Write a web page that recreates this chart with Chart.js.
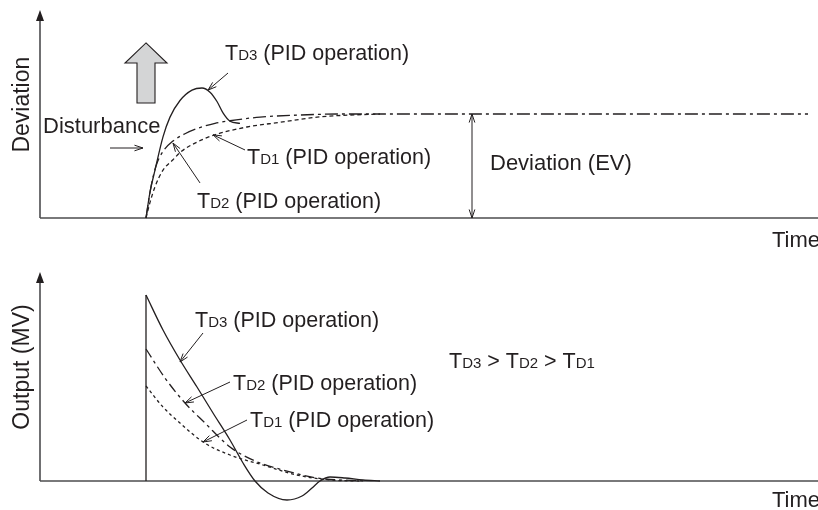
<!DOCTYPE html>
<html>
<head>
<meta charset="utf-8">
<script src="https://cdn.jsdelivr.net/npm/chart.js@4"></script>
<style>
  html, body { margin: 0; padding: 0; background: #fff; }
  #contenedor { position: relative; width: 818px; height: 510px; }
  .caja { position: absolute; left: 0; width: 818px; }
</style>
</head>
<body>
<div id="contenedor">
  <div class="caja" style="top:0;height:250px"><canvas id="desviacion"></canvas></div>
  <div class="caja" style="top:250px;height:260px"><canvas id="salida"></canvas></div>
</div>
<script>
// Desviación (arriba): tiempo y valor (1 = desviación EV)
const DESV_TD3_T = [106, 110, 115, 123, 130, 140, 152, 162, 170, 177, 183, 190, 200];
const DESV_TD3_V = [0, 0.25, 0.46, 0.78, 0.97, 1.13, 1.23, 1.25, 1.21, 1.12, 1.01, 0.93, 0.91];
const DESV_TD2_T = [106, 111, 116, 123, 133, 145, 157, 175, 190, 220, 260, 300, 768];
const DESV_TD2_V = [0, 0.30, 0.50, 0.64, 0.74, 0.81, 0.86, 0.91, 0.935, 0.97, 0.99, 1.0, 1.0];
const DESV_TD1_T = [106, 110, 115, 123, 133, 140, 157, 175, 207, 240, 277, 310, 340];
const DESV_TD1_V = [0, 0.15, 0.30, 0.46, 0.56, 0.63, 0.73, 0.80, 0.875, 0.92, 0.97, 0.99, 1.0];

// Salida MV (abajo)
const SAL_TD3_T = [106, 123, 140, 157, 173, 190, 203, 215, 228, 247, 262, 272, 280, 290, 305, 323, 340];
const SAL_TD3_V = [186, 151, 121, 94, 68, 41, 18, 0, -12, -19, -15, -7, 0, 4, 3, 1, 0];
const SAL_TD2_T = [106, 125, 145, 165, 190, 215, 243, 277, 327];
const SAL_TD2_V = [132, 103, 78, 58, 34, 20, 11, 3, 0];
const SAL_TD1_T = [106, 123, 140, 163, 190, 223, 257, 290, 320];
const SAL_TD1_V = [95, 74, 58, 39, 26, 16, 6, 1, 0];

const COLOR = "#231f20";
const COLOR_EJE = "#4d4d4f";
const FUENTE = "'Liberation Sans', Arial, sans-serif";
const TAM = 21.5;
const TAM_SUB = 15;

function puntos(ts, vs) {
  return ts.map((t, i) => ({ x: t, y: vs[i] }));
}

function serie(datos, guiones) {
  return {
    data: datos,
    borderColor: COLOR,
    borderWidth: 1.3,
    borderDash: guiones,
    pointRadius: 0,
    fill: false,
    cubicInterpolationMode: "monotone",
    clip: false,
  };
}

// texto con subíndices entre llaves: "T{D3}"
function dibujarTexto(ctx, x, y, texto, tam) {
  let cx = x;
  texto.split(/(\{[^}]*\})/).filter(Boolean).forEach((p) => {
    const sub = p.startsWith("{");
    const s = sub ? p.slice(1, -1) : p;
    ctx.font = `${sub ? TAM_SUB : tam}px ${FUENTE}`;
    ctx.fillText(s, cx, y);
    cx += ctx.measureText(s).width;
  });
}

function punta(ctx, x1, y1, x2, y2, largo, abertura) {
  const ang = Math.atan2(y2 - y1, x2 - x1);
  ctx.moveTo(x2 - largo * Math.cos(ang - abertura), y2 - largo * Math.sin(ang - abertura));
  ctx.lineTo(x2, y2);
  ctx.lineTo(x2 - largo * Math.cos(ang + abertura), y2 - largo * Math.sin(ang + abertura));
}

function crearAnotaciones(cfg) {
  return {
    id: "anotaciones",
    beforeDatasetsDraw(chart) {
      const { ctx, chartArea: a, scales: { y } } = chart;
      const y0 = y.getPixelForValue(0);
      ctx.save();
      ctx.strokeStyle = COLOR_EJE;
      ctx.lineWidth = 1.6;
      ctx.beginPath();
      ctx.moveTo(a.left, y0);
      ctx.lineTo(a.right, y0);
      ctx.moveTo(a.left, y0);
      ctx.lineTo(a.left, a.top + 8);
      ctx.stroke();
      ctx.fillStyle = COLOR;
      ctx.beginPath();
      ctx.moveTo(a.left, a.top);
      ctx.lineTo(a.left - 4, a.top + 11);
      ctx.lineTo(a.left + 4, a.top + 11);
      ctx.closePath();
      ctx.fill();
      ctx.restore();
    },
    afterDatasetsDraw(chart) {
      const { ctx, chartArea: a, scales: { x, y } } = chart;
      const px = (t) => x.getPixelForValue(t);
      const py = (v) => y.getPixelForValue(v);
      ctx.save();
      ctx.fillStyle = COLOR;
      ctx.strokeStyle = COLOR;
      ctx.textAlign = "left";
      ctx.textBaseline = "alphabetic";

      // título del eje vertical
      ctx.save();
      ctx.translate(a.left - 11, py(cfg.titulo.v));
      ctx.rotate(-Math.PI / 2);
      ctx.textAlign = "center";
      ctx.font = `23px ${FUENTE}`;
      ctx.fillText(cfg.titulo.texto, 0, 0);
      ctx.restore();

      cfg.textos.forEach((e) => dibujarTexto(ctx, px(e.t), py(e.v), e.texto, e.tam || TAM));

      ctx.lineWidth = 1;
      cfg.flechas.forEach((f) => {
        const x1 = px(f.de[0]), y1 = py(f.de[1]), x2 = px(f.a[0]), y2 = py(f.a[1]);
        ctx.beginPath();
        ctx.moveTo(x1, y1);
        ctx.lineTo(x2, y2);
        punta(ctx, x1, y1, x2, y2, 9, 0.32);
        if (f.doble) punta(ctx, x2, y2, x1, y1, 9, 0.32);
        ctx.stroke();
      });

      if (cfg.flechaGrande) {
        const g = cfg.flechaGrande;
        const cx = px(g.t);
        ctx.beginPath();
        ctx.moveTo(cx, py(g.punta));
        ctx.lineTo(cx + 21, py(g.base));
        ctx.lineTo(cx + 9, py(g.base));
        ctx.lineTo(cx + 9, py(g.fondo));
        ctx.lineTo(cx - 9, py(g.fondo));
        ctx.lineTo(cx - 9, py(g.base));
        ctx.lineTo(cx - 21, py(g.base));
        ctx.closePath();
        ctx.fillStyle = "#d4d5d6";
        ctx.fill();
        ctx.lineWidth = 1.1;
        ctx.stroke();
      }
      ctx.restore();
    },
  };
}

function opciones(yMin, yMax, pad) {
  return {
    responsive: true,
    maintainAspectRatio: false,
    animation: false,
    layout: { padding: pad },
    scales: {
      x: { type: "linear", display: false, min: 0, max: 778 },
      y: { type: "linear", display: false, min: yMin, max: yMax },
    },
    plugins: { legend: { display: false }, tooltip: { enabled: false } },
  };
}

new Chart(document.getElementById("desviacion"), {
  type: "line",
  data: {
    datasets: [
      serie(puntos(DESV_TD3_T, DESV_TD3_V), []),
      serie(puntos(DESV_TD2_T, DESV_TD2_V), [13, 4, 3, 4]),
      serie(puntos(DESV_TD1_T, DESV_TD1_V), [4, 3]),
    ],
  },
  options: opciones(0, 2, { left: 40, right: 0, top: 10, bottom: 32 }),
  plugins: [
    crearAnotaciones({
      titulo: { texto: "Deviation", v: 1.09 },
      textos: [
        { t: 185, v: 1.52, texto: "T{D3} (PID operation)" },
        { t: 207, v: 0.52, texto: "T{D1} (PID operation)" },
        { t: 157, v: 0.096, texto: "T{D2} (PID operation)" },
        { t: 3, v: 0.817, texto: "Disturbance", tam: 22 },
        { t: 450, v: 0.462, texto: "Deviation (EV)", tam: 22 },
        { t: 732, v: -0.279, texto: "Time", tam: 22 },
      ],
      flechas: [
        { de: [188, 1.394], a: [168, 1.23] },
        { de: [205, 0.654], a: [173, 0.80] },
        { de: [160, 0.337], a: [133, 0.72] },
        { de: [70, 0.673], a: [103, 0.673] },
        { de: [432, 0], a: [432, 1], doble: true },
      ],
      flechaGrande: { t: 106, punta: 1.683, base: 1.49, fondo: 1.106 },
    }),
  ],
});

new Chart(document.getElementById("salida"), {
  type: "line",
  data: {
    datasets: [
      serie([{ x: SAL_TD3_T[0], y: 0 }, { x: SAL_TD3_T[0], y: SAL_TD3_V[0] }], []),
      serie(puntos(SAL_TD3_T, SAL_TD3_V), []),
      serie(puntos(SAL_TD2_T, SAL_TD2_V), [10, 4, 3, 4]),
      serie(puntos(SAL_TD1_T, SAL_TD1_V), [3, 3]),
    ],
  },
  options: opciones(-20, 209, { left: 40, right: 0, top: 22, bottom: 9 }),
  plugins: [
    crearAnotaciones({
      titulo: { texto: "Output (MV)", v: 114 },
      textos: [
        { t: 155, v: 154, texto: "T{D3} (PID operation)" },
        { t: 193, v: 91, texto: "T{D2} (PID operation)" },
        { t: 210, v: 54, texto: "T{D1} (PID operation)" },
        { t: 409, v: 113, texto: "T{D3} > T{D2} > T{D1}" },
        { t: 732, v: -26, texto: "Time", tam: 22 },
      ],
      flechas: [
        { de: [163, 148], a: [140, 119] },
        { de: [190, 99], a: [145, 78] },
        { de: [207, 61], a: [163, 39] },
      ],
    }),
  ],
});
</script>
</body>
</html>
